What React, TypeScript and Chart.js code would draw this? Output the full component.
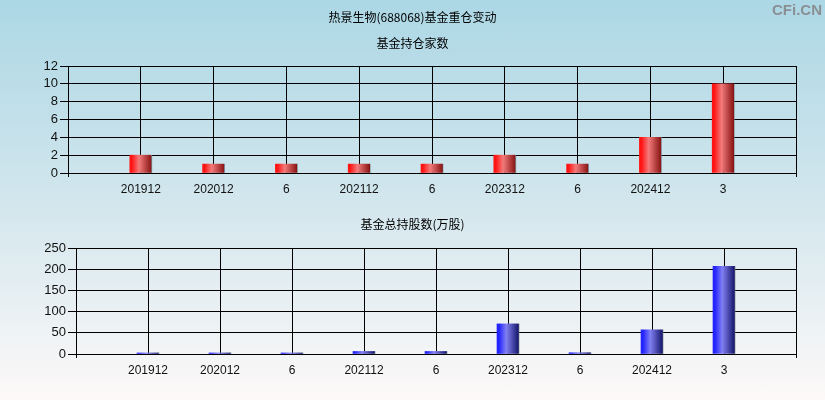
import React, { useEffect, useRef } from "react";
import { Chart, registerables } from "chart.js";

Chart.register(...registerables);

const categories = ["201912", "202012", "6", "202112", "6", "202312", "6", "202412", "3"];
const fundCounts = [2, 1, 1, 1, 1, 2, 1, 4, 10];
const fundShares = [2.5, 2.5, 2.5, 6, 6, 71, 3, 57, 207];
const countTicks = [0, 2, 4, 6, 8, 10, 12];
const shareTicks = [0, 50, 100, 150, 200, 250];

const mainTitle = "热景生物(688068)基金重仓变动";
const topTitle = "基金持仓家数";
const bottomTitle = "基金总持股数(万股)";

const tickFont = { family: "'Liberation Sans', Arial, sans-serif", size: 12 };

function makeGradient(chart: any, x: number, colors: string[]) {
  const g = chart.ctx.createLinearGradient(x - 10, 0, x + 12, 0);
  g.addColorStop(0, colors[0]);
  g.addColorStop(0.33, colors[1]);
  g.addColorStop(0.88, colors[2]);
  g.addColorStop(0.9, "#7a7f88");
  g.addColorStop(1, "#7a7f88");
  return g;
}

function buildConfig(values: number[], ticks: number[], colors: string[], pad: any, yWidth: number, xHeight: number) {
  const labels = ["", ...categories, ""];
  const data = [null, ...values, null];
  const n = labels.length - 1;
  return {
    type: "bar",
    data: {
      labels,
      datasets: [
        {
          data,
          barThickness: 22,
          backgroundColor: (ctx: any) => {
            const chart = ctx.chart;
            const xs = chart.scales && chart.scales.x;
            if (!xs) return colors[0];
            const x = xs.getPixelForValue(ctx.dataIndex) + 1;
            if (!Number.isFinite(x)) return colors[0];
            return makeGradient(chart, x, colors);
          },
          borderWidth: 0,
        },
      ],
    },
    options: {
      animation: false,
      responsive: false,
      maintainAspectRatio: false,
      layout: { padding: pad },
      plugins: { legend: { display: false }, tooltip: { enabled: false }, title: { display: false } },
      scales: {
        x: {
          type: "category",
          offset: false,
          grid: {
            offset: false,
            color: "#000",
            lineWidth: 1,
            drawTicks: true,
            tickLength: 4,
            tickColor: (c: any) => (c.index === 0 || c.index === n ? "#000" : "rgba(0,0,0,0)"),
          },
          border: { color: "#000", width: 1 },
          ticks: { color: "#111", font: tickFont, padding: 5, maxRotation: 0, autoSkip: false },
          afterFit: (s: any) => {
            s.height = xHeight;
          },
        },
        y: {
          min: ticks[0],
          max: ticks[ticks.length - 1],
          afterBuildTicks: (s: any) => {
            s.ticks = ticks.map((v) => ({ value: v }));
          },
          grid: { color: "#000", lineWidth: 1, drawTicks: true, tickLength: 8, tickColor: "#000" },
          border: { color: "#000", width: 1 },
          ticks: { color: "#111", font: { ...tickFont, size: 13 }, padding: 2, autoSkip: false },
          afterFit: (s: any) => {
            s.width = yWidth;
          },
        },
      },
    },
  };
}

export default function App() {
  const topRef = useRef<HTMLCanvasElement>(null);
  const botRef = useRef<HTMLCanvasElement>(null);

  useEffect(() => {
    document.body.style.margin = "0";
    const c1 = new Chart(
      topRef.current!,
      buildConfig(fundCounts, countTicks, ["#ff1414", "#f27a7a", "#8a1616"], { left: 0, right: 29, top: 66, bottom: 0 }, 68, 27) as any
    );
    const c2 = new Chart(
      botRef.current!,
      buildConfig(fundShares, shareTicks, ["#2424ff", "#8080f2", "#18186e"], { left: 0, right: 29, top: 48, bottom: 19 }, 76, 27) as any
    );
    return () => {
      c1.destroy();
      c2.destroy();
    };
  }, []);

  const cjk = "'Noto Sans CJK SC', sans-serif";
  const textStyle: React.CSSProperties = {
    position: "absolute",
    left: 0,
    width: 825,
    textAlign: "center",
    fontFamily: cjk,
    fontSize: 12,
    color: "#000",
    lineHeight: "14px",
  };

  return (
    <div
      style={{
        position: "absolute",
        left: 0,
        top: 0,
        width: 825,
        height: 400,
        overflow: "hidden",
        background: "linear-gradient(to bottom, #acd7e5 0%, #d2e6ed 50%, #fdf9f8 100%)",
      }}
    >
      <canvas ref={topRef} width={825} height={200} style={{ position: "absolute", left: 0, top: 0 }} />
      <canvas ref={botRef} width={825} height={200} style={{ position: "absolute", left: 0, top: 200 }} />
      <div style={{ ...textStyle, top: 10 }}>{mainTitle}</div>
      <div style={{ ...textStyle, top: 36 }}>{topTitle}</div>
      <div style={{ ...textStyle, top: 217 }}>{bottomTitle}</div>
      <div
        style={{
          position: "absolute",
          right: 3,
          top: 1,
          fontFamily: "'Liberation Sans', Arial, sans-serif",
          fontWeight: "bold",
          fontSize: 15,
          color: "#8a8f94",
        }}
      >
        CFi.CN
      </div>
    </div>
  );
}
